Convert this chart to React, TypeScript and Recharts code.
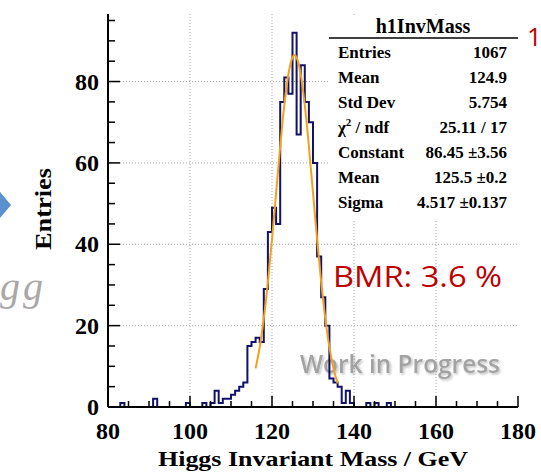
import { LineChart, Line, XAxis, YAxis, CartesianGrid } from "recharts";

// h1InvMass: 1 GeV bins from 80 to 180 GeV
const massLow = 80;
const massHigh = 180;
const binCounts = [
  0, 0, 0, 1, 0, 0, 0, 0, 0, 0, // 80-89
  0, 2, 0, 0, 0, 0, 0, 0, 0, 1, // 90-99
  0, 0, 0, 1, 0, 1, 4, 1, 2, 2, // 100-109
  3, 4, 5, 6, 15, 16, 17, 16, 29, 43, // 110-119
  49, 45, 75, 81, 77, 92, 67, 84, 75, 70, // 120-129
  60, 37, 27, 20, 7, 6, 5, 1, 4, 1, // 130-139
  0, 0, 0, 1, 0, 1, 0, 0, 1, 0, // 140-149
  0, 0, 0, 0, 0, 0, 0, 0, 0, 0, // 150-159
  0, 0, 0, 0, 0, 0, 0, 0, 0, 0, // 160-169
  0, 0, 0, 0, 0, 0, 0, 0, 0, 0, // 170-179
];

// gaussian fit curve
const fitMass = [116, 117, 118, 119, 120, 121, 122, 123, 124, 125, 125.5, 126, 127, 128, 129, 130, 131, 132, 133, 134, 135, 136];
const fitValue = [9.5, 14.7, 21.8, 30.7, 41.2, 52.6, 64.0, 74.2, 81.8, 85.9, 86.5, 85.9, 81.8, 74.2, 64.0, 52.6, 41.2, 30.7, 21.8, 14.7, 9.5, 5.8];

const xMajor = [80, 100, 120, 140, 160, 180];
const yMajor = [0, 20, 40, 60, 80];
const xGrid = [100, 120, 140, 160];
const yGrid = [20, 40, 60, 80];
const yMax = 96.6;

const statLabels = ["Entries", "Mean", "Std Dev", "chi2", "Constant", "Mean", "Sigma"];
const statValues = ["1067", "124.9", "5.754", "25.11 / 17", "86.45 \u00b13.56", "125.5 \u00b10.2", "4.517 \u00b10.137"];

const histData = binCounts.map((c, i) => ({ x: massLow + i, y: c }));
histData.push({ x: massHigh, y: binCounts[binCounts.length - 1] });
const fitData = fitMass.map((m, i) => ({ x: m, y: fitValue[i] }));

const xTicks: number[] = [];
for (let v = massLow; v <= massHigh; v += 5) xTicks.push(v);
const yTicks: number[] = [];
for (let v = 0; v < yMax; v += 5) yTicks.push(v);

const serif = "'Liberation Serif', 'Times New Roman', serif";
const tickStroke = { stroke: "#000", strokeWidth: 1.5 };

const BottomTick = (props: any) => {
  const { x, y, payload } = props;
  const major = xMajor.includes(payload.value);
  return (
    <g>
      <line x1={x} y1={y} x2={x} y2={y - (major ? 11 : 6)} {...tickStroke} />
      {major && (
        <text x={x} y={y + 32} textAnchor="middle" fontFamily={serif} fontWeight="bold" fontSize={24} fill="#000">
          {payload.value}
        </text>
      )}
    </g>
  );
};

const TopTick = (props: any) => {
  const { x, y, payload } = props;
  const major = xMajor.includes(payload.value);
  return <line x1={x} y1={y} x2={x} y2={y + (major ? 11 : 6)} {...tickStroke} />;
};

const LeftTick = (props: any) => {
  const { x, y, payload } = props;
  const major = yMajor.includes(payload.value);
  return (
    <g>
      <line x1={x} y1={y} x2={x + (major ? 12 : 7)} y2={y} {...tickStroke} />
      {major && (
        <text x={x - 9} y={y + 8} textAnchor="end" fontFamily={serif} fontWeight="bold" fontSize={24} fill="#000">
          {payload.value}
        </text>
      )}
    </g>
  );
};

const RightTick = (props: any) => {
  const { x, y, payload } = props;
  const major = yMajor.includes(payload.value);
  return <line x1={x} y1={y} x2={x - (major ? 12 : 7)} y2={y} {...tickStroke} />;
};

const StatLabel = ({ label, y }: { label: string; y: number }) => {
  if (label === "chi2") {
    return (
      <text x={338} y={y} fontFamily={serif} fontWeight="bold" fontSize={17} fill="#000">
        <tspan>χ</tspan>
        <tspan dy={-7} fontSize={11}>2</tspan>
        <tspan dy={7}> / ndf</tspan>
      </text>
    );
  }
  return (
    <text x={338} y={y} fontFamily={serif} fontWeight="bold" fontSize={17} fill="#000">
      {label}
    </text>
  );
};

export default function App() {
  return (
    <div style={{ position: "absolute", left: 0, top: 0, background: "#fff" }}>
      <LineChart width={541} height={475} margin={{ top: 14, right: 23, bottom: 18, left: 48 }}>
        <defs>
          <filter id="wipShadow" x="-5%" y="-20%" width="115%" height="160%">
            <feDropShadow dx={1.5} dy={1.5} stdDeviation={1} floodColor="#000" floodOpacity={0.25} />
          </filter>
        </defs>
        <CartesianGrid
          xAxisId="grid"
          yAxisId="grid"
          stroke="#a6a6a6"
          strokeWidth={1}
          strokeDasharray="1 2"
          horizontalValues={yGrid}
          verticalValues={xGrid}
        />
        {/* stats box */}
        <rect x={329} y={15} width={188} height={205} fill="#fff" />
        <line x1={329} y1={38} x2={518} y2={38} stroke="#000" strokeWidth={1.5} />
        <text x={423} y={33} textAnchor="middle" fontFamily={serif} fontWeight="bold" fontSize={20} fill="#000">
          h1InvMass
        </text>
        {statLabels.map((l, i) => (
          <StatLabel key={"l" + i} label={l} y={58 + i * 25} />
        ))}
        {statValues.map((v, i) => (
          <text key={"v" + i} x={507} y={58 + i * 25} textAnchor="end" fontFamily={serif} fontWeight="bold" fontSize={17} fill="#000">
            {v}
          </text>
        ))}

        <XAxis
          dataKey="x"
          type="number"
          domain={[massLow, massHigh]}
          ticks={xTicks}
          interval={0}
          height={50}
          tickSize={0}
          tickMargin={0}
          tickLine={false}
          axisLine={{ stroke: "#000", strokeWidth: 2 }}
          tick={<BottomTick />}
          allowDataOverflow
        />
        <XAxis
          xAxisId="top"
          orientation="top"
          dataKey="x"
          type="number"
          domain={[massLow, massHigh]}
          ticks={xTicks}
          interval={0}
          height={0}
          tickSize={0}
          tickMargin={0}
          tickLine={false}
          axisLine={{ stroke: "#000", strokeWidth: 2 }}
          tick={<TopTick />}
          allowDataOverflow
        />
        <XAxis
          xAxisId="grid"
          orientation="top"
          dataKey="x"
          type="number"
          domain={[massLow, massHigh]}
          ticks={xGrid}
          interval={0}
          height={0}
          hide
          allowDataOverflow
        />
        <YAxis
          type="number"
          domain={[0, yMax]}
          ticks={yTicks}
          interval={0}
          width={60}
          tickSize={0}
          tickMargin={0}
          tickLine={false}
          axisLine={{ stroke: "#000", strokeWidth: 2 }}
          tick={<LeftTick />}
          allowDataOverflow
        />
        <YAxis
          yAxisId="right"
          orientation="right"
          type="number"
          domain={[0, yMax]}
          ticks={yTicks}
          interval={0}
          width={0}
          tickSize={0}
          tickMargin={0}
          tickLine={false}
          axisLine={{ stroke: "#000", strokeWidth: 2 }}
          tick={<RightTick />}
          allowDataOverflow
        />
        <YAxis
          yAxisId="grid"
          orientation="right"
          type="number"
          domain={[0, yMax]}
          ticks={yGrid}
          interval={0}
          width={0}
          hide
          allowDataOverflow
        />

        <Line
          data={histData}
          dataKey="y"
          type="stepAfter"
          stroke="#12126a"
          strokeWidth={2}
          dot={false}
          isAnimationActive={false}
        />
        <Line
          data={fitData}
          dataKey="y"
          type="monotone"
          stroke="#f5a01a"
          strokeWidth={2}
          dot={false}
          isAnimationActive={false}
        />

        {/* annotations */}
        <text x={333} y={287} fontFamily="'Open Sans', sans-serif" fontSize={29} fill="#c00000" textLength={169} lengthAdjust="spacingAndGlyphs">
          BMR: 3.6 %
        </text>
        <text
          x={300}
          y={373}
          fontFamily="'Open Sans', sans-serif"
          fontWeight={600}
          fontSize={25}
          fill="#a3a3a3"
          textLength={200}
          lengthAdjust="spacingAndGlyphs"
          filter="url(#wipShadow)"
        >
          Work in Progress
        </text>

        {/* axis titles */}
        <text x={313} y={466} textAnchor="middle" fontFamily={serif} fontWeight="bold" fontSize={22} fill="#000" textLength={310} lengthAdjust="spacingAndGlyphs">
          Higgs Invariant Mass / GeV
        </text>
        <text
          x={51}
          y={209}
          transform="rotate(-90 51 209)"
          textAnchor="middle"
          fontFamily={serif}
          fontWeight="bold"
          fontSize={24}
          fill="#000"
          textLength={82}
          lengthAdjust="spacingAndGlyphs"
        >
          Entries
        </text>

        {/* slide fragments around the plot */}
        <polygon points="0,192 11,205 0,218" fill="#5b8fd0" />
        <text x={0} y={300} fontFamily={serif} fontStyle="italic" fontSize={40} fill="#a8a8a8" letterSpacing={3}>
          gg
        </text>
        <text x={527} y={46} fontFamily="'Open Sans', sans-serif" fontSize={26} fill="#c00000">
          1
        </text>
      </LineChart>
    </div>
  );
}
